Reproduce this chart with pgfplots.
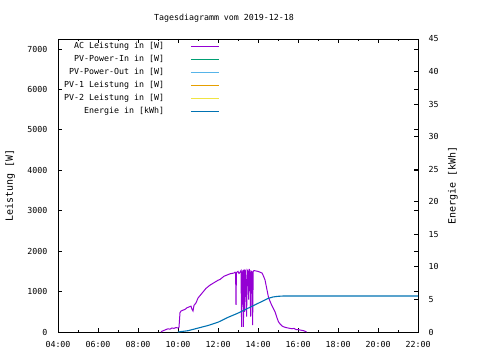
\documentclass[border=0pt]{standalone}
\usepackage{pgfplots}
\pgfplotsset{compat=1.18}
\usepackage{fontspec}
\setmainfont{DejaVu Sans Mono}
\definecolor{acviolet}{HTML}{9400D3}
\definecolor{pvingreen}{HTML}{009E73}
\definecolor{pvoutblue}{HTML}{56B4E9}
\definecolor{pvoneorange}{HTML}{E69F00}
\definecolor{pvtwoyellow}{HTML}{F0E442}
\definecolor{energyblue}{HTML}{0072B2}
\newcommand{\gf}{\fontsize{8.3bp}{10bp}\selectfont}
\begin{document}
\begin{tikzpicture}[x=1bp,y=1bp]
\path[use as bounding box] (0,0) rectangle (480,360);
\node[font=\gf] at (224,342) {Tagesdiagramm vom 2019-12-18};
\begin{axis}[
  at={(58bp,28bp)}, anchor=south west, scale only axis,
  width=360bp, height=293bp,
  xmin=4, xmax=22, ymin=0, ymax=7250,
  xtick={4,6,...,22},
  xticklabels={04:00,06:00,08:00,10:00,12:00,14:00,16:00,18:00,20:00,22:00},
  minor xtick={5,7,...,21},
  ytick={0,1000,...,7000},
  xtick pos=both, ytick pos=both,
  xticklabel pos=lower, yticklabel pos=left,
  tick align=inside,
  major tick length=4bp, minor tick length=2bp,
  tick style={black, line width=0.9bp},
  axis line style={line width=0.9bp},
  scaled y ticks=false,
  /pgf/number format/assume math mode=true,
  /pgf/number format/1000 sep={},
  tick label style={font=\gf},
  yticklabel style={xshift=-7bp},
  xticklabel style={yshift=-6bp},
  ylabel={Leistung [W]},
  ylabel style={font=\gf},
  every axis y label/.style={at={(axis description cs:-0.133,0.5)}, rotate=90, anchor=center},
]
\addplot[draw=acviolet, line width=1bp] coordinates {
(9.15,0) (9.2,20) (9.3,40) (9.4,60) (9.5,80) (9.6,70) (9.7,100) (9.8,90) (9.9,110) (10.0,100)
(10.05,120) (10.1,480) (10.15,520) (10.25,540) (10.35,560) (10.45,600) (10.55,620) (10.65,640)
(10.7,560) (10.75,520) (10.8,660) (10.9,720) (11.0,840) (11.1,900) (11.2,960) (11.3,1020)
(11.4,1080) (11.5,1120) (11.6,1160) (11.7,1190) (11.8,1220) (11.9,1250) (12.0,1280) (12.1,1300)
(12.2,1340) (12.3,1380) (12.4,1400) (12.5,1420) (12.6,1440) (12.7,1450) (12.8,1460) (12.85,1480)
(12.88,1460) (12.9,670) (12.92,1470) (13.0,1500) (13.05,1450) (13.1,1480) (13.15,1520)
(13.18,130) (13.2,1500) (13.22,1000) (13.25,1530) (13.27,130) (13.3,1550) (13.33,500)
(13.36,1540) (13.4,1200) (13.43,380) (13.46,1530) (13.5,1500) (13.53,800) (13.56,1560)
(13.6,1450) (13.63,380) (13.66,1500) (13.7,1480) (13.73,170) (13.76,1500) (13.8,1520)
(13.9,1510) (14.0,1500) (14.1,1480) (14.2,1460) (14.25,1410) (14.35,1290) (14.43,1090)
(14.52,870) (14.6,760) (14.68,670) (14.75,600) (14.85,500) (14.95,350) (15.02,255) (15.1,200)
(15.2,150) (15.27,130) (15.4,110) (15.5,100) (15.6,90) (15.7,80) (15.8,90) (15.9,60) (16.0,60)
(16.1,50) (16.2,40) (16.3,30) (16.43,0)
};
\end{axis}
\begin{axis}[
  at={(58bp,28bp)}, anchor=south west, scale only axis,
  width=360bp, height=293bp,
  xmin=4, xmax=22, ymin=0, ymax=45,
  axis x line=none, axis y line*=right,
  ytick={0,5,...,45},
  tick align=inside,
  major tick length=4bp,
  tick style={black, line width=0.9bp},
  axis line style={line width=0.9bp},
  /pgf/number format/assume math mode=true,
  tick label style={font=\gf},
  yticklabel style={xshift=7bp},
  ylabel={Energie [kWh]},
  ylabel style={font=\gf},
  every axis y label/.style={at={(axis description cs:1.097,0.5)}, rotate=90, anchor=center},
  legend plot pos=right,
  legend cell align=right,
  legend image code/.code={\draw[#1] (0bp,0bp) -- (28bp,0bp);},
  legend style={at={(axis description cs:0,1)}, anchor=north west, xshift=5bp,
    draw=none, fill=none, font=\gf, inner sep=1bp, row sep=0pt,
    nodes={inner ysep=2.5bp, inner xsep=0pt, text height=6bp, text depth=2bp},
    /tikz/column 1/.style={column sep=26bp}},
]
\addplot[draw=energyblue, line width=1.1bp, forget plot] coordinates {
(10.0,0) (10.5,0.2) (11.0,0.6) (11.5,1.0) (12.0,1.5) (12.5,2.25) (13.0,2.9) (13.5,3.65)
(14.0,4.4) (14.5,5.15) (14.75,5.38) (15.0,5.48) (15.27,5.53) (22.0,5.53)
};
\addlegendimage{draw=acviolet, line width=1.3bp}
\addlegendentry{AC Leistung in [W]}
\addlegendimage{draw=pvingreen, line width=1.3bp}
\addlegendentry{PV-Power-In in [W]}
\addlegendimage{draw=pvoutblue, line width=1.3bp}
\addlegendentry{PV-Power-Out in [W]}
\addlegendimage{draw=pvoneorange, line width=1.3bp}
\addlegendentry{PV-1 Leistung in [W]}
\addlegendimage{draw=pvtwoyellow, line width=1.3bp}
\addlegendentry{PV-2 Leistung in [W]}
\addlegendimage{draw=energyblue, line width=1.3bp}
\addlegendentry{Energie in [kWh]}
\end{axis}
\end{tikzpicture}
\end{document}
